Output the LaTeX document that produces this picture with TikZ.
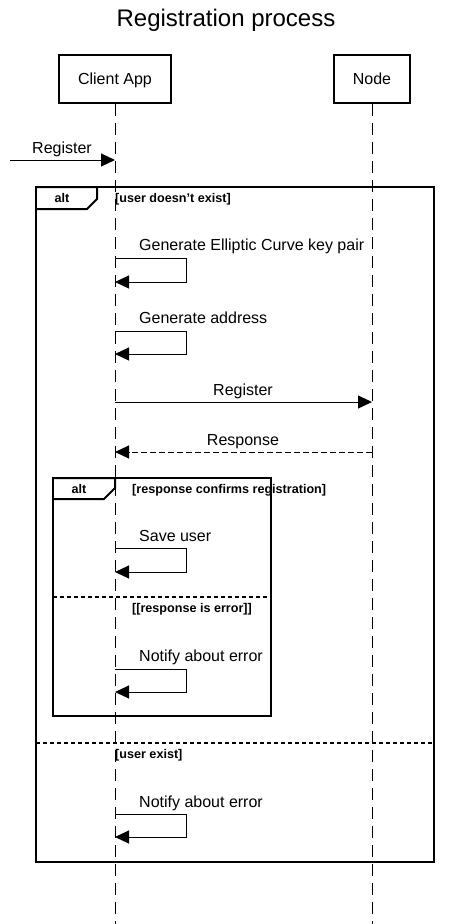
\documentclass[tikz,border=0pt]{standalone}
\usepackage{fontspec}
\setmainfont{Liberation Sans}
\usetikzlibrary{arrows.meta}
\begin{document}
\begin{tikzpicture}[x=1pt,y=-1pt,
  lbl/.style={font=\fontsize{16}{19}\selectfont, inner sep=0pt, text height=11.5pt, text depth=0pt},
  grd/.style={font=\bfseries\fontsize{12.6}{15}\selectfont, inner sep=0pt, text height=9pt, text depth=0pt},
  head/.style={draw, line width=2pt, minimum height=48pt, inner sep=0pt, text height=11.5pt, text depth=0pt, font=\fontsize{16}{19}\selectfont},
  life/.style={line width=1pt, dash pattern=on 12pt off 7pt},
  msg/.style={line width=1pt, -{Triangle[length=14pt,width=13pt]}},
  ret/.style={line width=1pt, dash pattern=on 6pt off 3pt, -{Triangle[length=14pt,width=13pt]}},
  frm/.style={line width=2pt},
  sep/.style={line width=2pt, dash pattern=on 4pt off 3pt},
]
\useasboundingbox (0,0) rectangle (451,924);
% title
\node[font=\fontsize{24}{28}\selectfont, inner sep=0pt, text height=17pt, text depth=0pt] (title) at (226,18) {Registration process};
% lifeline heads
\node[head, minimum width=112pt] (client) at (115,79) {Client App};
\node[head, minimum width=76pt] (node) at (372,79) {Node};
\coordinate (cend) at (115,924);
\coordinate (nend) at (372,924);
\draw[life] (client.south) -- (cend);
\draw[life] (node.south) -- (nend);
% incoming Register
\coordinate (in0) at (10,160);
\coordinate (in1) at (115,160);
\draw[msg] (in0) -- (in1);
\node[lbl] (lin) at (62,148) {Register};
% outer alt frame
\draw[frm] (36,187) rectangle (434,862);
\draw[frm] (36,187) -- (97,187) -- (97,199) -- (87,209) -- (36,209);
\node[grd] (alt1) at (62,198) {alt};
\node[grd, anchor=west] (g1) at (115,198) {[user doesn't exist]};
% self message 1
\coordinate (s1a) at (115,258);
\coordinate (s1b) at (115,282);
\draw[msg] (s1a) -- (186,258) -- (186,282) -- (s1b);
\node[lbl, anchor=west] (l1) at (139,245) {Generate Elliptic Curve key pair};
% self message 2
\coordinate (s2a) at (115,331);
\coordinate (s2b) at (115,354);
\draw[msg] (s2a) -- (186,331) -- (186,354) -- (s2b);
\node[lbl, anchor=west] (l2) at (139,318) {Generate address};
% Register to node
\coordinate (r0) at (115,402);
\coordinate (r1) at (372,402);
\draw[msg] (r0) -- (r1);
\node[lbl] (l3) at (243,390) {Register};
% Response
\coordinate (p0) at (372,452);
\coordinate (p1) at (115,452);
\draw[ret] (p0) -- (p1);
\node[lbl] (l4) at (243,440) {Response};
% inner alt frame
\draw[frm] (53,478) rectangle (271,716);
\draw[frm] (53,478) -- (115,478) -- (115,488) -- (104,499) -- (53,499);
\node[grd] (alt2) at (79,489) {alt};
\node[grd, anchor=west] (g2) at (132,489) {[response confirms registration]};
% save user
\coordinate (s3a) at (115,548);
\coordinate (s3b) at (115,572);
\draw[msg] (s3a) -- (186,548) -- (186,572) -- (s3b);
\node[lbl, anchor=west] (l5) at (139,536) {Save user};
% inner separator
\draw[sep] (53,597) -- (271,597);
\node[grd] (g3) at (192,608) {[[response is error]]};
% notify 1
\coordinate (s4a) at (115,669);
\coordinate (s4b) at (115,692);
\draw[msg] (s4a) -- (186,669) -- (186,692) -- (s4b);
\node[lbl, anchor=west] (l6) at (139,656) {Notify about error};
% outer separator
\draw[sep] (36,743) -- (434,743);
\node[grd, anchor=west] (g4) at (115,754) {[user exist]};
% notify 2
\coordinate (s5a) at (115,814);
\coordinate (s5b) at (115,837);
\draw[msg] (s5a) -- (186,814) -- (186,837) -- (s5b);
\node[lbl, anchor=west] (l7) at (139,802) {Notify about error};
\end{tikzpicture}
\end{document}
